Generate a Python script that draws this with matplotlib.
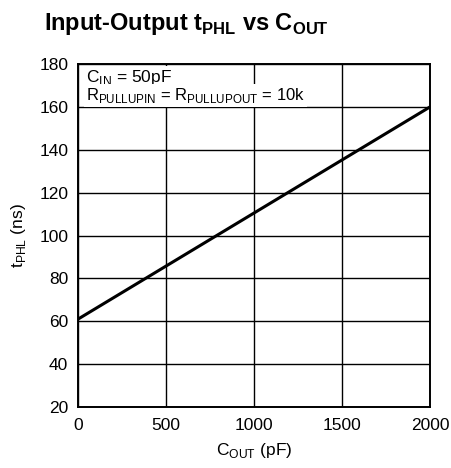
import matplotlib

matplotlib.use("Agg")
import matplotlib.pyplot as plt

plt.rcParams["font.family"] = ["Liberation Sans", "DejaVu Sans"]
plt.rcParams["mathtext.fontset"] = "custom"
plt.rcParams["mathtext.rm"] = "Liberation Sans"
plt.rcParams["mathtext.bf"] = "Liberation Sans:bold"

# t_PHL vs C_OUT, straight line
c_out_pf = [0, 2000]
t_phl_ns = [61, 160]

x_ticks = [0, 500, 1000, 1500, 2000]
y_ticks = [20, 40, 60, 80, 100, 120, 140, 160, 180]

fig = plt.figure(figsize=(4.51, 4.68), dpi=100)
ax = fig.add_axes([0.173, 0.1303, 0.7805, 0.7329])

ax.plot(c_out_pf, t_phl_ns, color="black", lw=2.2, zorder=3, solid_capstyle="butt")

ax.set_xlim(0, 2000)
ax.set_ylim(20, 180)
ax.set_xticks(x_ticks)
ax.set_yticks(y_ticks)
ax.tick_params(labelsize=12.5, length=0)
ax.tick_params(axis="x", pad=8)
ax.tick_params(axis="y", pad=7)
ax.grid(color="black", lw=1.0)
for s in ax.spines.values():
    s.set_linewidth(1.4)

ax.set_xlabel("C$_{\\mathregular{OUT}}$ (pF)", fontsize=12.5, labelpad=6)
ax.set_ylabel("t$_{\\mathregular{PHL}}$ (ns)", fontsize=12.5, labelpad=8)

box = dict(facecolor="white", edgecolor="none", pad=1.5)
ax.text(45, 171.6, "C$_{\\mathregular{IN}}$ = 50pF",
        fontsize=12.5, va="baseline", ha="left", zorder=4, bbox=box)
ax.text(45, 163.2,
        "R$_{\\mathregular{PULLUPIN}}$ = R$_{\\mathregular{PULLUPOUT}}$ = 10k",
        fontsize=12, va="baseline", ha="left", zorder=4, bbox=box)

fig.text(0.414, 0.949, "Input-Output t$_{\\mathregular{PHL}}$ vs C$_{\\mathregular{OUT}}$",
         fontsize=17, fontweight="bold", ha="center", va="center")

fig.savefig("out.png", dpi=100)
